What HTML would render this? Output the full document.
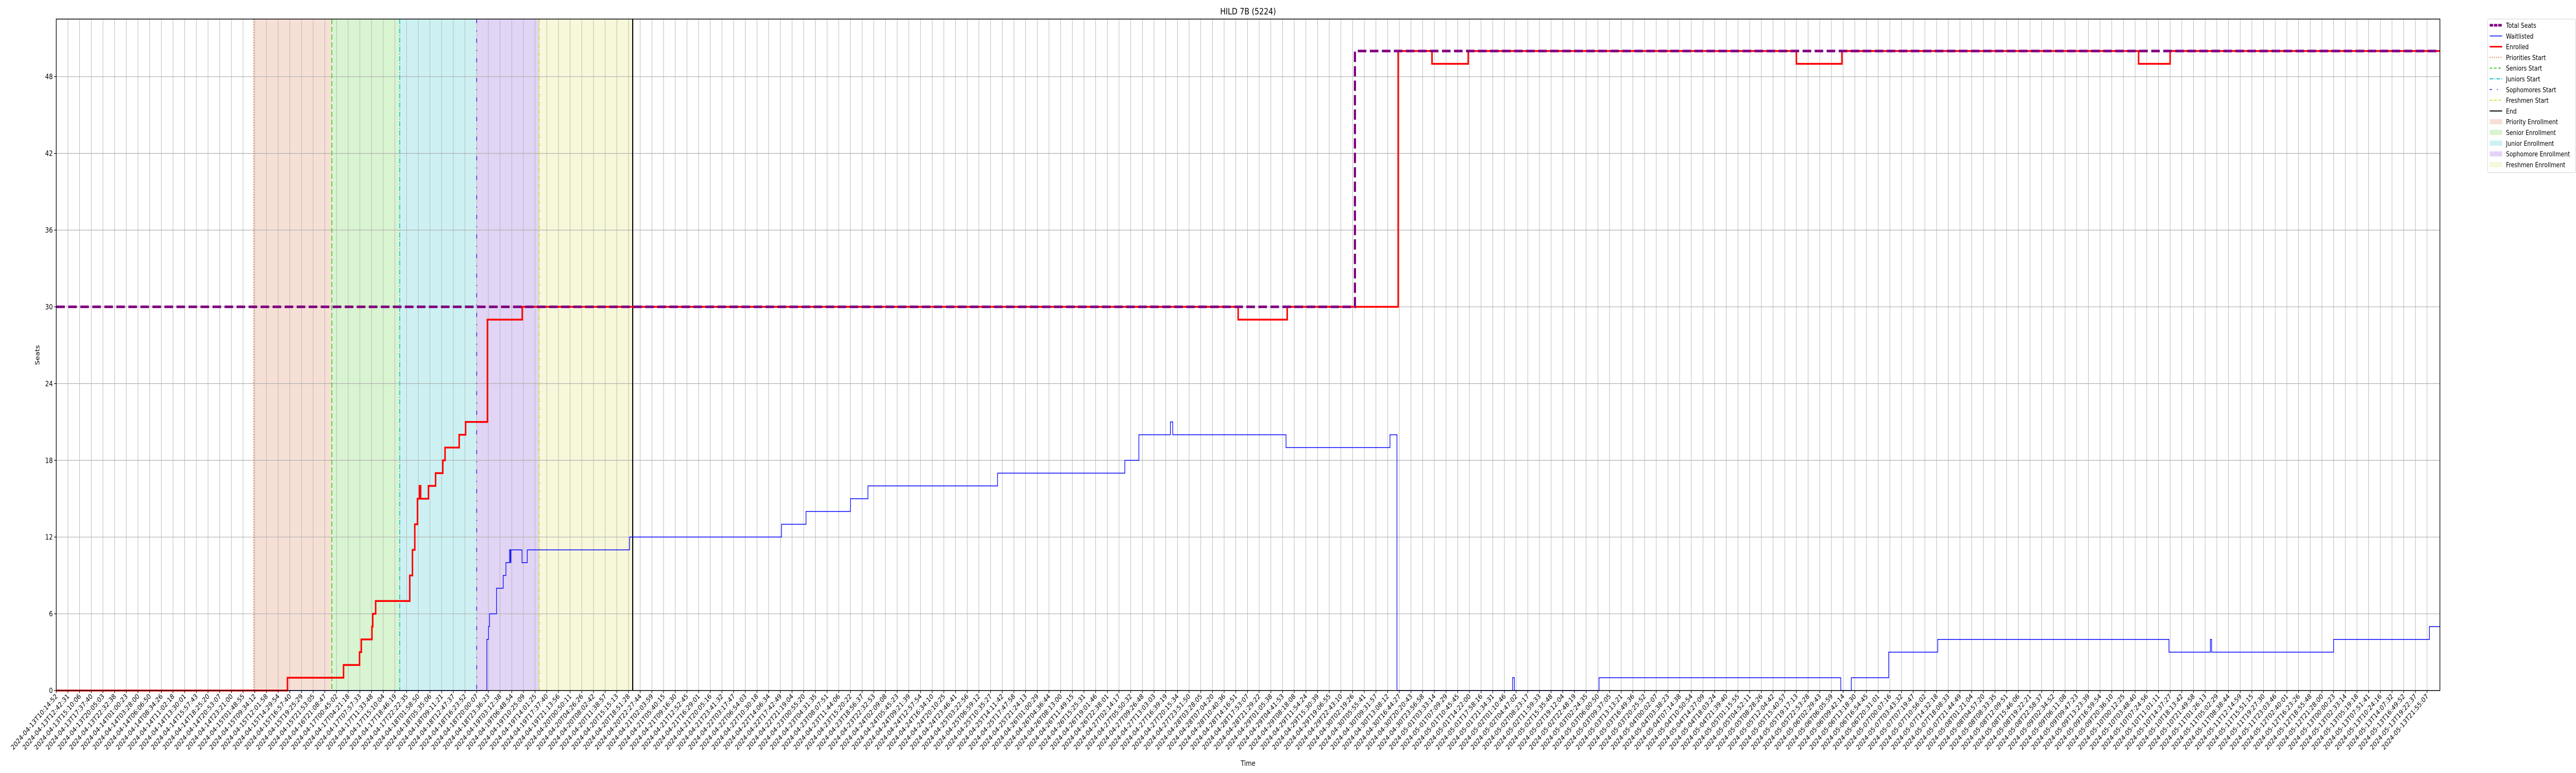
<!DOCTYPE html>
<html><head><meta charset="utf-8">
<style>
html,body{margin:0;padding:0;background:#fff;width:100%;height:100%;overflow:hidden;}
svg{display:block;font-family:"DejaVu Sans","Liberation Sans",sans-serif;overflow:hidden;width:100vw;height:100vh;}
</style></head>
<body>
<svg id="chart" viewBox="0 0 6000 1500" preserveAspectRatio="none" xmlns="http://www.w3.org/2000/svg">
<rect width="6000" height="1500" fill="#fff"/>
<g id="bands"></g>
<g id="grid"></g>
<g id="vlines"></g>
<g id="series"></g>
<rect x="131" y="37" width="5552" height="1303" fill="none" stroke="#000" stroke-width="1.5"/>
<g id="yaxis"></g>
<g id="xaxis"></g>
<text x="2907" y="28" font-size="17" text-anchor="middle">HILD 7B (5224)</text>
<text x="0" y="0" font-size="14" text-anchor="middle" transform="translate(92,689) rotate(-90)">Seats</text>
<text x="2907" y="1486" font-size="14" text-anchor="middle">Time</text>
<g id="legend"></g>
</svg>
<script>
// ---- data ----
const seatsT = [0, 111.2];
const seatsV = [30, 50];
const enrolledT = [0,19.8,24.6,25.97,26.12,27.03,27.1,27.35,30.27,30.5,30.7,30.93,31.1,31.2,31.87,32.48,33.1,33.29,34.5,35.05,36.92,39.9,101.2,105.4,114.9,117.8,120.9,149.0,152.9,178.3,181.0];
const enrolledV = [0,1,2,3,4,5,6,7,9,11,13,15,16,15,16,17,18,19,20,21,29,30,29,30,50,49,50,49,50,49,50];
const waitT = [0,36.87,37.01,37.1,37.7,38.27,38.5,38.81,38.89,38.93,39.88,40.33,49.09,62.1,64.2,68.0,69.5,80.6,91.5,92.7,95.4,95.6,105.3,114.2,114.8,124.7,124.85,132.1,152.8,153.7,156.9,161.1,180.9,184.45,184.55,195.0,203.2];
const waitV = [0,4,5,6,8,9,10,11,10,11,10,11,12,13,14,15,16,17,18,20,21,20,19,20,0,1,0,1,0,1,3,4,3,4,3,4,5];
const phaseNames = ["Priority Enrollment","Senior Enrollment","Junior Enrollment","Sophomore Enrollment","Freshmen Enrollment"];
const phaseStarts = [16.9, 23.6, 29.41, 36.0, 41.36];
const endT = 49.36;
const yTicks = [0,6,12,18,24,30,36,42,48];
const firstLabels = ["2024-04-13T10:14:52","2024-04-13T12:42:31","2024-04-13T15:10:06","2024-04-13T17:37:40","2024-04-13T20:05:03","2024-04-13T22:32:38","2024-04-14T01:00:23","2024-04-14T03:28:00","2024-04-14T06:06:50","2024-04-14T08:34:26","2024-04-14T11:02:18","2024-04-14T13:30:01","2024-04-14T15:57:43","2024-04-14T18:25:20","2024-04-14T20:53:07","2024-04-14T23:21:00","2024-04-15T01:48:55","2024-04-15T09:34:12","2024-04-15T12:01:58","2024-04-15T14:29:54","2024-04-15T16:57:40","2024-04-15T19:25:29","2024-04-15T21:53:05"];
const lastLabels = ["2024-05-12T16:23:26","2024-05-12T18:55:48","2024-05-12T21:28:00","2024-05-13T00:00:23","2024-05-13T02:33:14","2024-05-13T05:19:18","2024-05-13T07:51:41","2024-05-13T10:24:16","2024-05-13T14:07:32","2024-05-13T16:49:52","2024-05-13T19:22:37","2024-05-13T21:55:07"];
const nTicks = 204;

// ---- scales ----
const L=131, R=5683, T=37, B=1340, TMAX=204.1, VMAX=52.5;
const X = t => L + t*(R-L)/TMAX;
const Y = v => B - v*(B-T)/VMAX;
const NS="http://www.w3.org/2000/svg";
function mk(tag, attrs, parent){const e=document.createElementNS(NS,tag);for(const k in attrs)e.setAttribute(k,attrs[k]);parent.appendChild(e);return e;}

// tick labels
const tickLabels=[];
{
  const t0=Date.UTC(2024,3,13,10,14,52), t1=Date.UTC(2024,4,13,21,55,7);
  for(let i=0;i<nTicks;i++){
    const d=new Date(t0+(t1-t0)*i/(nTicks-1));
    tickLabels.push(d.toISOString().slice(0,19));
  }
  firstLabels.forEach((s,i)=>tickLabels[i]=s);
  lastLabels.forEach((s,i)=>tickLabels[nTicks-lastLabels.length+i]=s);
}

// bands
const bandFill=["#f6e0d6","#d9f4d1","#cdf1f3","#e1d4f4","#f7f8d9"];
const bands=document.getElementById('bands');
for(let i=0;i<phaseStarts.length;i++){
  const a=phaseStarts[i], b=(i+1<phaseStarts.length)?phaseStarts[i+1]:endT;
  const r=mk('rect',{x:X(a),y:T,width:X(b)-X(a),height:B-T,fill:bandFill[i]},bands);
  
  
}

// grid
const grid=document.getElementById('grid');
for(let i=0;i<nTicks;i++){
  const l=mk('line',{x1:X(i),x2:X(i),y1:T,y2:B,stroke:"#b0b0b0","stroke-width":1},grid);
  
  
}
yTicks.forEach(v=>{
  const l=mk('line',{x1:L,x2:R,y1:Y(v),y2:Y(v),stroke:"#b0b0b0","stroke-width":1.2},grid);
  
  
});

// phase start lines
const vl=document.getElementById('vlines');
const vStyles=[["#e8743b","2,3"],["#44cc22","10,5"],["#17c3d0","10,3,2,3"],["#6a2bd9","8,14,2,14"],["#dcdc30","8,3,2,3"]];
phaseStarts.forEach((t,i)=>{
  const l=mk('line',{x1:X(t),x2:X(t),y1:T,y2:B,stroke:vStyles[i][0],"stroke-width":2,"stroke-dasharray":vStyles[i][1]},vl);
  
  
});
{
  const l=mk('line',{x1:X(endT),x2:X(endT),y1:T,y2:B,stroke:"#000","stroke-width":2.5},vl);
  
  
}

// step series
function stepPath(ts,vs){
  let d="M"+X(ts[0])+","+Y(vs[0]);
  for(let i=1;i<ts.length;i++){d+=" L"+X(ts[i])+","+Y(vs[i-1])+" L"+X(ts[i])+","+Y(vs[i]);}
  d+=" L"+R+","+Y(vs[vs.length-1]);
  return d;
}
const ser=document.getElementById('series');
const pW=mk('path',{d:stepPath(waitT,waitV),fill:"none",stroke:"#0000ff","stroke-width":1.5},ser);


const pE=mk('path',{d:stepPath(enrolledT,enrolledV),fill:"none",stroke:"#ff0000","stroke-width":3.5},ser);


const pS=mk('path',{d:stepPath(seatsT,seatsV),fill:"none",stroke:"#800080","stroke-width":5,"stroke-dasharray":"20,8"},ser);



// y axis
const ya=document.getElementById('yaxis');
yTicks.forEach(v=>{
  const tk=mk('line',{x1:L-5,x2:L,y1:Y(v),y2:Y(v),stroke:"#000","stroke-width":1.2},ya);
  
  
  const tx=mk('text',{x:L-8,y:Y(v)+5,"font-size":14,"text-anchor":"end"},ya);
  tx.textContent=v;
  
  
});

// x axis
const xa=document.getElementById('xaxis');
for(let i=0;i<nTicks;i++){
  const x=X(i);
  const tk=mk('line',{x1:x,x2:x,y1:B,y2:B+5,stroke:"#000","stroke-width":1.2},xa);
  
  
  const tx=mk('text',{x:0,y:0,"font-size":13.5,"text-anchor":"end",transform:"translate("+(x+4)+","+(B+12)+") rotate(-45)"},xa);
  tx.textContent=tickLabels[i];
  
  
}

// legend
const lg=document.getElementById('legend');
{
  const box=mk('rect',{x:5794,y:37,width:205,height:298,rx:3,fill:"#fff",stroke:"#d0d0d0","stroke-width":1},lg);
  
  
}
const legItems=[
  ["Total Seats","line","#800080",5,"8,2"],
  ["Waitlisted","line","#0000ff",1.5,""],
  ["Enrolled","line","#ff0000",3,""],
  ["Priorities Start","line","#e8743b",2,"2,3"],
  ["Seniors Start","line","#44cc22",2,"6,4"],
  ["Juniors Start","line","#17c3d0",2,"8,3,2,3"],
  ["Sophomores Start","line","#6a2bd9",2,"5,12,2,12"],
  ["Freshmen Start","line","#dcdc30",2,"5,2,2,2"],
  ["End","line","#000",2,""],
  ["Priority Enrollment","rect",bandFill[0]],
  ["Senior Enrollment","rect",bandFill[1]],
  ["Junior Enrollment","rect",bandFill[2]],
  ["Sophomore Enrollment","rect",bandFill[3]],
  ["Freshmen Enrollment","rect",bandFill[4]]
];
legItems.forEach((it,i)=>{
  const y=49+i*20.8;
  const g=mk('g',{},lg);
  
  
  if(it[1]==="line"){
    const a={x1:5799,x2:5828,y1:y,y2:y,stroke:it[2],"stroke-width":it[3]};
    if(it[4])a["stroke-dasharray"]=it[4];
    mk('line',a,g);
  } else {
    mk('rect',{x:5799,y:y-5,width:29,height:10,fill:it[2]},g);
  }
  const t=mk('text',{x:5837,y:y+5,"font-size":13},g);
  t.textContent=it[0];
});
</script>
</body></html>
